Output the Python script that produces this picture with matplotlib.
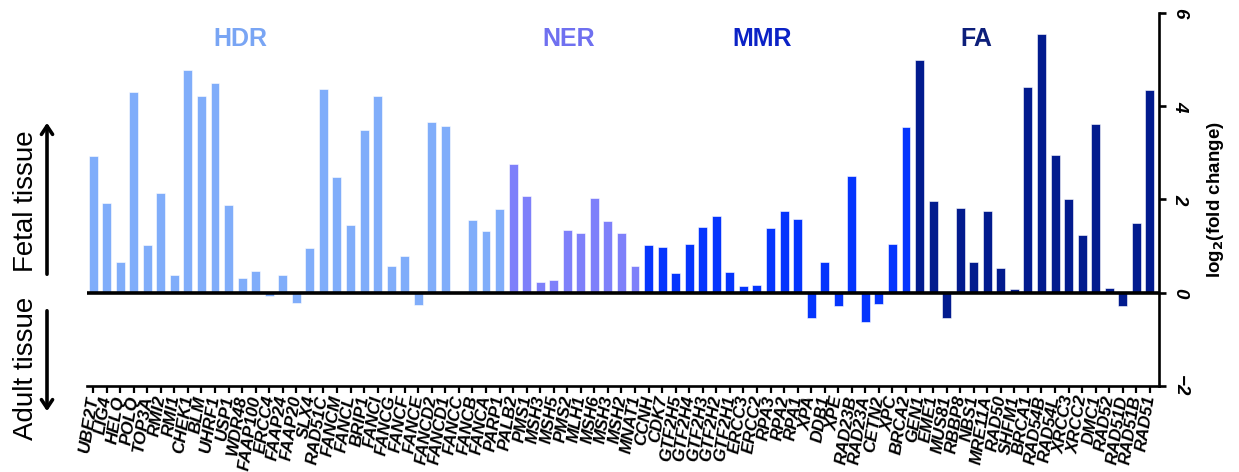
import numpy as np
import matplotlib
matplotlib.use("Agg")
import matplotlib.pyplot as plt

plt.rcParams['font.family'] = ['Liberation Sans', 'DejaVu Sans']

genes = ["UBE2T", "LIG4", "HELQ", "POLQ", "TOP3A", "RMI2", "RMI1", "CHEK1", "BLM", "UHRF1",
         "USP1", "WDR48", "FAAP100", "ERCC4", "FAAP24", "FAAP20", "SLX4", "RAD51C", "FANCM", "FANCL",
         "BRIP1", "FANCI", "FANCG", "FANCF", "FANCE", "FANCD2", "FANCD1", "FANCC", "FANCB", "FANCA",
         "PARP1", "PALB2", "PMS1", "MSH3", "MSH5", "PMS2", "MLH1", "MSH6", "MSH3", "MSH2",
         "MNAT1", "CCNH", "CDK7", "GTF2H5", "GTF2H4", "GTF2H3", "GTF2H2", "GTF2H1", "ERCC3", "ERCC2",
         "RPA3", "RPA2", "RPA1", "XPA", "DDB1", "XPE", "RAD23B", "RAD23A", "CETN2", "XPC",
         "BRCA2", "GEN1", "EME1", "MUS81", "RBBP8", "NBS1", "MRE11A", "RAD50", "SHFM1", "BRCA1",
         "RAD54B", "RAD54L", "XRCC3", "XRCC2", "DMC1", "RAD52", "RAD51D", "RAD51B", "RAD51"]

log2fc = [2.93, 1.93, 0.67, 4.30, 1.02, 2.14, 0.39, 4.77, 4.23, 4.49,
          1.89, 0.32, 0.47, -0.08, 0.39, -0.22, 0.97, 4.37, 2.49, 1.46,
          3.48, 4.23, 0.57, 0.78, -0.26, 3.67, 3.58, 0.0, 1.57, 1.32,
          1.80, 2.77, 2.07, 0.22, 0.27, 1.34, 1.28, 2.04, 1.53, 1.28,
          0.57, 1.03, 0.98, 0.42, 1.05, 1.42, 1.65, 0.45, 0.14, 0.17,
          1.39, 1.76, 1.59, -0.55, 0.67, -0.28, 2.50, -0.62, -0.25, 1.05,
          3.56, 4.99, 1.97, -0.54, 1.81, 0.65, 1.75, 0.54, 0.09, 4.42,
          5.55, 2.96, 2.00, 1.24, 3.61, 0.10, -0.28, 1.49, 4.35]

# colour group of each bar: 0 HDR, 1 NER, 2 MMR, 3 FA
group_of_bar = [0] * 31 + [1] * 10 + [2] * 20 + [3] * 18
group_names = ["HDR", "NER", "MMR", "FA"]
bar_colors = ["#80adfa", "#7e80fa", "#0535fd", "#021b8e"]
text_colors = ["#79a5f4", "#6f70f0", "#0b22c6", "#0d1f7a"]
label_pos = [10.9, 35.1, 49.4, 65.2]

fig = plt.figure(figsize=(12.39, 4.72), dpi=100)
ax = fig.add_axes([0.0702, 0.1822, 0.8652, 0.7903])

x = np.arange(len(genes))
ax.bar(x, log2fc, width=0.66, color=[bar_colors[g] for g in group_of_bar],
       edgecolor="white", linewidth=0.4, zorder=2)
ax.axhline(0, color="black", lw=2.6, zorder=3)

ax.set_xlim(-0.45, 78.67)
ax.set_ylim(-2, 6)

for s in ["left", "top"]:
    ax.spines[s].set_visible(False)
for s in ["right", "bottom"]:
    ax.spines[s].set_linewidth(1.9)

ax.yaxis.tick_right()
ax.yaxis.set_label_position("right")
ax.set_yticks([-2, 0, 2, 4, 6])
ax.set_yticklabels(["\u22122", "0", "2", "4", "6"], rotation=-90, fontsize=13.5,
                   fontweight="bold", fontstyle="italic", va="center")
ax.tick_params(axis="y", direction="out", length=5, width=1.9, pad=4)

ax.set_xticks(x)
ax.set_xticklabels(genes, rotation=81, ha="right", va="center", rotation_mode="anchor",
                   fontsize=12.5, fontweight="bold", fontstyle="italic")
ax.tick_params(axis="x", direction="out", length=5, width=1.6, pad=2)

ax.set_ylabel(r"log$_\mathbf{2}$(fold change)", fontsize=13.5, fontweight="bold",
              rotation=90, labelpad=12)

for name, col, pos in zip(group_names, text_colors, label_pos):
    ax.text(pos, 5.45, name, color=col, fontsize=18, fontweight="bold",
            ha="center", va="center")

# left-hand annotations
fig.text(0.021, 1 - 201 / 472, "Fetal tissue", rotation=90, fontsize=20,
         ha="center", va="center")
fig.text(0.021, 1 - 368 / 472, "Adult tissue", rotation=90, fontsize=20,
         ha="center", va="center")
fig.add_artist(matplotlib.patches.FancyArrowPatch(
    (47 / 1239, 1 - 277 / 472), (47 / 1239, 1 - 120 / 472), transform=fig.transFigure,
    arrowstyle="->,head_length=6,head_width=4", lw=2.6, color="black"))
fig.add_artist(matplotlib.patches.FancyArrowPatch(
    (47 / 1239, 1 - 308 / 472), (47 / 1239, 1 - 414 / 472), transform=fig.transFigure,
    arrowstyle="->,head_length=6,head_width=4", lw=2.6, color="black"))

fig.savefig("out.png", dpi=100)
